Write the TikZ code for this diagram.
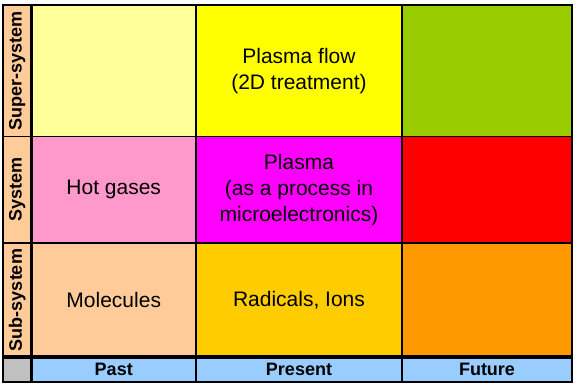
\documentclass[tikz,border=0pt]{standalone}
\usepackage{fontspec}
\setmainfont{Liberation Sans}
\definecolor{cSupPast}{HTML}{FFFF99}
\definecolor{cSupPres}{HTML}{FFFF00}
\definecolor{cSupFut}{HTML}{99CC00}
\definecolor{cSysPast}{HTML}{FF99CC}
\definecolor{cSysPres}{HTML}{FF00FF}
\definecolor{cSysFut}{HTML}{FF0000}
\definecolor{cSubPast}{HTML}{FFCC99}
\definecolor{cSubPres}{HTML}{FFCC00}
\definecolor{cSubFut}{HTML}{FF9900}
\definecolor{cRowLab}{HTML}{FFCC99}
\definecolor{cColLab}{HTML}{99CCFF}
\definecolor{cCorner}{HTML}{C0C0C0}
\begin{document}
\begin{tikzpicture}[x=1pt,y=-1pt,
  cell/.style={draw=black, line width=1.5pt, inner sep=0pt, anchor=center, align=center,
    font=\fontsize{21}{26}\selectfont},
  collab/.style={cell, font=\bfseries\fontsize{18}{20}\selectfont},
  rowlab/.style={cell, fill=cRowLab, rotate=90, font=\bfseries\fontsize{18}{20}\selectfont},
  thickline/.style={line width=3.5pt}]
\useasboundingbox[fill=white] (0,0) rectangle (576,385);
% row labels (rotated: minimum width = row height)
\node[rowlab, minimum width=131.5pt, minimum height=28.5pt] (rSup) at (17.25,70.75) {Super-system};
\node[rowlab, minimum width=106.5pt, minimum height=28.5pt] (rSys) at (17.25,189.75) {System};
\node[rowlab, minimum width=114pt, minimum height=28.5pt] (rSub) at (17.25,300) {Sub-system};
% super-system row
\node[cell, fill=cSupPast, minimum width=164.5pt, minimum height=131.5pt] (supPast) at (113.75,70.75) {};
\node[cell, fill=cSupPres, minimum width=206pt, minimum height=131.5pt] (supPres) at (299,70.75) {Plasma flow\\(2D treatment)};
\node[cell, fill=cSupFut, minimum width=170pt, minimum height=131.5pt] (supFut) at (487,70.75) {};
% system row
\node[cell, fill=cSysPast, minimum width=164.5pt, minimum height=106.5pt] (sysPast) at (113.75,189.75) {Hot gases};
\node[cell, fill=cSysPres, minimum width=206pt, minimum height=106.5pt] (sysPres) at (299,189.75) {Plasma\\(as a process in\\microelectronics)};
\node[cell, fill=cSysFut, minimum width=170pt, minimum height=106.5pt] (sysFut) at (487,189.75) {};
% sub-system row
\node[cell, fill=cSubPast, minimum width=164.5pt, minimum height=114pt] (subPast) at (113.75,300) {Molecules};
\node[cell, fill=cSubPres, minimum width=206pt, minimum height=114pt] (subPres) at (299,300) {Radicals, Ions};
\node[cell, fill=cSubFut, minimum width=170pt, minimum height=114pt] (subFut) at (487,300) {};
% column labels
\node[cell, fill=cCorner, minimum width=28.5pt, minimum height=25pt] (corner) at (17.25,369.5) {};
\node[collab, fill=cColLab, minimum width=164.5pt, minimum height=25pt] (cPast) at (113.75,369.5) {Past};
\node[collab, fill=cColLab, minimum width=206pt, minimum height=25pt] (cPres) at (299,369.5) {Present};
\node[collab, fill=cColLab, minimum width=170pt, minimum height=25pt] (cFut) at (487,369.5) {Future};
% thick separators and outer frame
\coordinate (vTop) at (31.5,5);
\coordinate (vBot) at (31.5,382);
\coordinate (hL) at (3,357);
\coordinate (hR) at (572,357);
\draw[thickline, line width=3pt] (vTop) -- (vBot);
\draw[thickline] (hL) -- (hR);
\draw[line width=2pt] (rSup.south west |- vTop) rectangle (hR |- vBot);
\end{tikzpicture}
\end{document}
